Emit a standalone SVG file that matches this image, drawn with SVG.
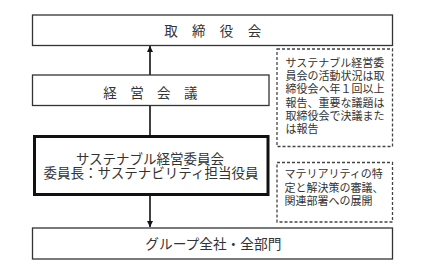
<svg xmlns="http://www.w3.org/2000/svg" width="423" height="275" viewBox="0 0 423 275">
<style>
  .box{fill:#fff;stroke:#333;stroke-width:1.3}
  .thick{fill:#fff;stroke:#111;stroke-width:3}
  .dash{fill:#fff;stroke:#444;stroke-width:1.3;stroke-dasharray:3 2}
  .t{font-family:"Noto Sans CJK JP","Noto Sans CJK SC",sans-serif;fill:#333}
  .m{font-size:13.5px;text-anchor:middle}
  .s{font-size:11px}
  .conn{stroke:#111;stroke-width:1.6;fill:none}
</style>
<defs>
  <marker id="ah" viewBox="0 0 10 10" refX="10" refY="5" markerWidth="6" markerHeight="6" markerUnits="userSpaceOnUse" orient="auto">
    <path d="M0,0 L10,5 L0,10 z" fill="#111"/>
  </marker>
</defs>
<rect width="423" height="275" fill="#fff"/>
<g id="connectors">
  <line class="conn" x1="150" y1="75" x2="150" y2="46" marker-end="url(#ah)"/>
  <line class="conn" x1="150" y1="105.5" x2="150" y2="135"/>
  <line class="conn" x1="150" y1="196" x2="150" y2="227" marker-end="url(#ah)"/>
</g>
<g id="board">
  <rect class="box" x="32.5" y="15" width="360" height="30.5"/>
  <text class="t m" x="171 198.8 226.6 254.4" y="36.4">取締役会</text>
</g>
<g id="management">
  <rect class="box" x="32.5" y="75" width="236.5" height="30.5"/>
  <text class="t m" x="110 136.9 163.8 190.7" y="97.8">経営会議</text>
</g>
<g id="committee">
  <rect class="thick" x="34.5" y="136.5" width="233.5" height="58"/>
  <text class="t m" x="150" y="163.8">サステナブル経営委員会</text>
  <text class="t m" x="151" y="177.7">委員長：サステナビリティ担当役員</text>
</g>
<g id="group">
  <rect class="box" x="32.5" y="228" width="360" height="31"/>
  <text class="t m" x="213.3" y="248.8" style="font-size:13.7px">グループ全社・全部門</text>
</g>
<g id="note1">
  <rect class="dash" x="277" y="49" width="115.5" height="97.5"/>
  <text class="t s" x="285.5" y="66.8">サステナブル経営委</text>
  <text class="t s" x="285.5" y="80.1">員会の活動状況は取</text>
  <text class="t s" x="285.5" y="93.4">締役会へ年１回以上</text>
  <text class="t s" x="285.5" y="106.7">報告、重要な議題は</text>
  <text class="t s" x="285.5" y="120">取締役会で決議また</text>
  <text class="t s" x="285.5" y="133.3">は報告</text>
</g>
<g id="note2">
  <rect class="dash" x="277" y="162.5" width="115.5" height="59.5"/>
  <text class="t s" x="284.5" y="178.2">マテリアリティの特</text>
  <text class="t s" x="284.5" y="191.5">定と解決策の審議、</text>
  <text class="t s" x="284.5" y="204.8">関連部署への展開</text>
</g>
</svg>
